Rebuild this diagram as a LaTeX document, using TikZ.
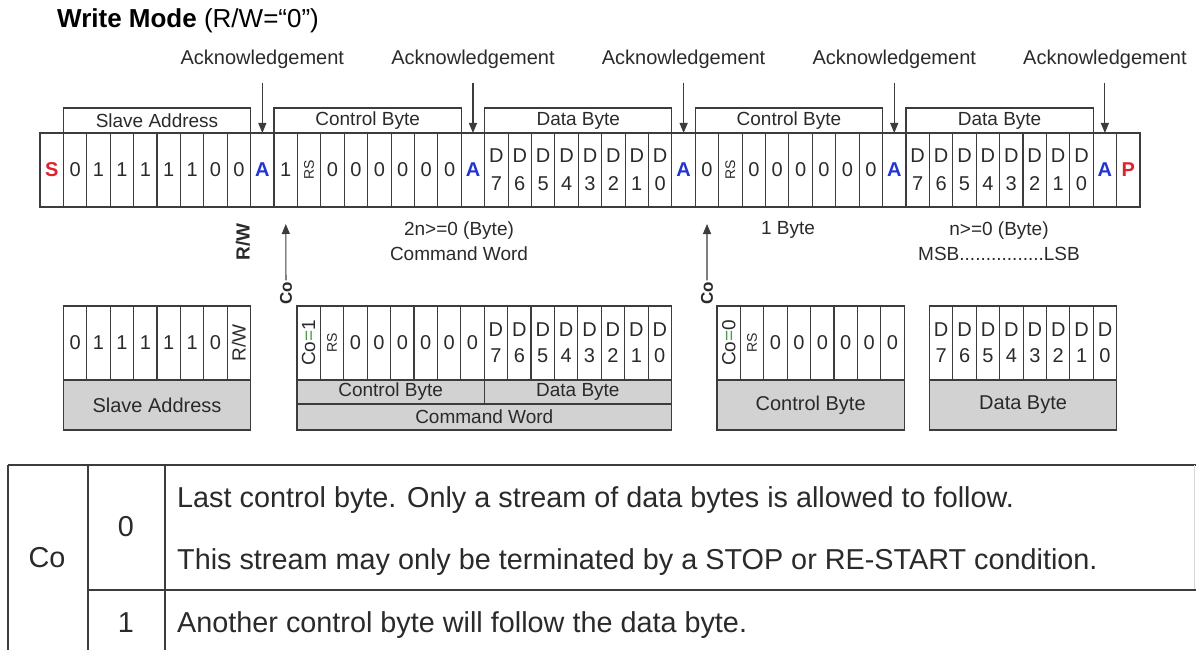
\documentclass[tikz,border=0pt]{standalone}
\usepackage{fontspec}
\usepackage{graphicx}
\setmainfont{Liberation Sans}
\usetikzlibrary{arrows.meta}
\definecolor{ln}{HTML}{3C3C3C}
\definecolor{tx}{HTML}{2A2A2A}
\definecolor{bandgray}{HTML}{D2D2D2}
\definecolor{sred}{HTML}{E0202A}
\definecolor{ablue}{HTML}{2434D0}
\definecolor{eqgreen}{HTML}{4A9A4A}
\newcommand{\fs}[2]{\fontsize{#1}{#2}\selectfont}
\newcommand{\Sb}{\textcolor{sred}{\bfseries S}}
\newcommand{\Ab}{\textcolor{ablue}{\bfseries A}}
\newcommand{\Pb}{\textcolor{sred}{\bfseries P}}
\newcommand{\RSb}{\rotatebox{90}{\fs{14}{14}RS}}
\newcommand{\RWb}{\rotatebox{90}{\fs{19}{19}R/W}}
\newcommand{\Db}[1]{D\\#1}
\newcommand{\Cob}[1]{\rotatebox{90}{\fs{19}{19}Co\textcolor{eqgreen}{=}#1}}
\begin{document}
\begin{tikzpicture}[x=1pt,y=-1pt,
  cell/.style={draw=ln, line width=1.1pt, minimum width=23.404pt, minimum height=74pt,
    inner sep=0pt, outer sep=0pt, text=tx, align=center, font=\fs{20}{28}},
  cellb/.style={cell, font=\fs{20}{26}},
  hdr/.style={draw=ln, line width=1.1pt, minimum width=187.23pt, minimum height=25pt,
    inner sep=0pt, outer sep=0pt, text=tx, font=\fs{19}{19}},
  band/.style={draw=ln, fill=bandgray, line width=1.1pt, inner sep=0pt, outer sep=0pt,
    text=tx, font=\fs{20}{20}},
  lbl/.style={inner sep=1pt, text=tx, font=\fs{19}{25}, align=center},
  arr/.style={draw=ln, line width=1.1pt, -{Triangle[length=10pt,width=8pt]}},
  tline/.style={draw=ln, line width=1.3pt},
  ttxt/.style={inner sep=0pt, text=tx, font=\fs{28.8}{28.8}}]
\path[use as bounding box] (0,0) rectangle (1196,650);

% title
\node[anchor=west, inner sep=0pt, text=black, font=\fs{26}{26}] (title) at (57,21)
  {{\bfseries Write Mode} (R/W=“0”)};

% headers above the top row
\foreach \s/\t [count=\k] in {1/Slave Address, 10/Control Byte, 19/Data Byte, 28/Control Byte, 37/Data Byte}
  \node[hdr] (hdr\k) at ({40+(\s+4)*23.404},120.5) {\t};

% top row
\foreach \c [count=\i from 0] in {{\Sb},0,1,1,1,1,1,0,0,{\Ab},
    1,{\RSb},0,0,0,0,0,0,{\Ab},
    {\Db{7}},{\Db{6}},{\Db{5}},{\Db{4}},{\Db{3}},{\Db{2}},{\Db{1}},{\Db{0}},{\Ab},
    0,{\RSb},0,0,0,0,0,0,{\Ab},
    {\Db{7}},{\Db{6}},{\Db{5}},{\Db{4}},{\Db{3}},{\Db{2}},{\Db{1}},{\Db{0}},{\Ab},{\Pb}}
  \node[cell] (t\i) at ({40+(\i+0.5)*23.404},170) {\c};

% acknowledgement arrows
\foreach \a [count=\k] in {9,18,27,36,45}{
  \node[lbl, font=\fs{20}{20}] (ack\k) at ({40+(\a+0.5)*23.404},59) {Acknowledgement};
  \draw[arr, shorten <=13pt] (ack\k) -- (t\a.north);
}

% labels under the top row
\node[lbl, rotate=90, font=\bfseries\fs{19}{19}] (rwlbl) at (243,242) {R/W};
\node[lbl, rotate=90, font=\bfseries\fs{17}{17}] (co1) at (286,293) {Co};
\node[lbl, rotate=90, font=\bfseries\fs{17}{17}] (co2) at (707,293) {Co};
\draw[arr, shorten >=17pt] (co1) -- (t10.south);
\draw[arr, shorten >=17pt] (co2) -- (t28.south);
\node[lbl] (cwlbl) at (459,241) {2n>=0 (Byte)\\Command Word};
\node[lbl] (onebyte) at (788,230) {1 Byte};
\node[lbl] (nbyte) at (999,241) {n>=0 (Byte)\\MSB................LSB};

% bottom: slave address
\foreach \c [count=\i from 0] in {0,1,1,1,1,1,0,{\RWb}}
  \node[cellb] (sa\i) at ({63.4+(\i+0.5)*23.404},343) {\c};
\node[band, minimum width=187.23pt, minimum height=50pt] (saL) at ({63.4+4*23.404},405) {Slave Address};

% bottom: command word
\foreach \c [count=\i from 0] in {{\Cob{1}},{\RSb},0,0,0,0,0,0,
    {\Db{7}},{\Db{6}},{\Db{5}},{\Db{4}},{\Db{3}},{\Db{2}},{\Db{1}},{\Db{0}}}
  \node[cellb] (cw\i) at ({297+(\i+0.5)*23.404},343) {\c};
\node[band, minimum width=187.23pt, minimum height=24pt, font=\fs{19}{19}] (cwCB) at ({297+4*23.404},392) {Control Byte};
\node[band, minimum width=187.23pt, minimum height=24pt, font=\fs{19}{19}] (cwDB) at ({297+12*23.404},392) {Data Byte};
\node[band, minimum width=374.46pt, minimum height=26pt, font=\fs{19}{19}] (cwL) at ({297+8*23.404},417) {Command Word};

% bottom: control byte
\foreach \c [count=\i from 0] in {{\Cob{0}},{\RSb},0,0,0,0,0,0}
  \node[cellb] (cb\i) at ({717+(\i+0.5)*23.404},343) {\c};
\node[band, minimum width=187.23pt, minimum height=50pt] (cbL) at ({717+4*23.404},405) {Control Byte};

% bottom: data byte
\foreach \c [count=\i from 0] in {{\Db{7}},{\Db{6}},{\Db{5}},{\Db{4}},{\Db{3}},{\Db{2}},{\Db{1}},{\Db{0}}}
  \node[cellb] (db\i) at ({929.5+(\i+0.5)*23.404},343) {\c};
\node[band, minimum width=187.23pt, minimum height=50pt] (dbL) at ({929.5+4*23.404},405) {Data Byte};

% table
\draw[tline] (8,465) -- (1196,465);
\draw[tline] (8,465) -- (8,650);
\draw[tline] (88,465) -- (88,650);
\draw[tline] (165,465) -- (165,650);
\draw[line width=0.8pt, draw=black!15] (1194,465) -- (1194,590);
\draw[tline] (88,590) -- (1196,590);
\node[ttxt] (tco) at (47,558) {Co};
\node[ttxt] (tzero) at (126,527) {0};
\node[ttxt] (tone) at (126,623) {1};
\node[ttxt, anchor=west] (tl1) at (177,500) {Last control byte. Only a stream of data bytes is allowed to follow.};
\node[ttxt, anchor=west] (tl2) at (177,562) {This stream may only be terminated by a STOP or RE-START condition.};
\node[ttxt, anchor=west] (tl3) at (177,625) {Another control byte will follow the data byte.};
\end{tikzpicture}
\end{document}
